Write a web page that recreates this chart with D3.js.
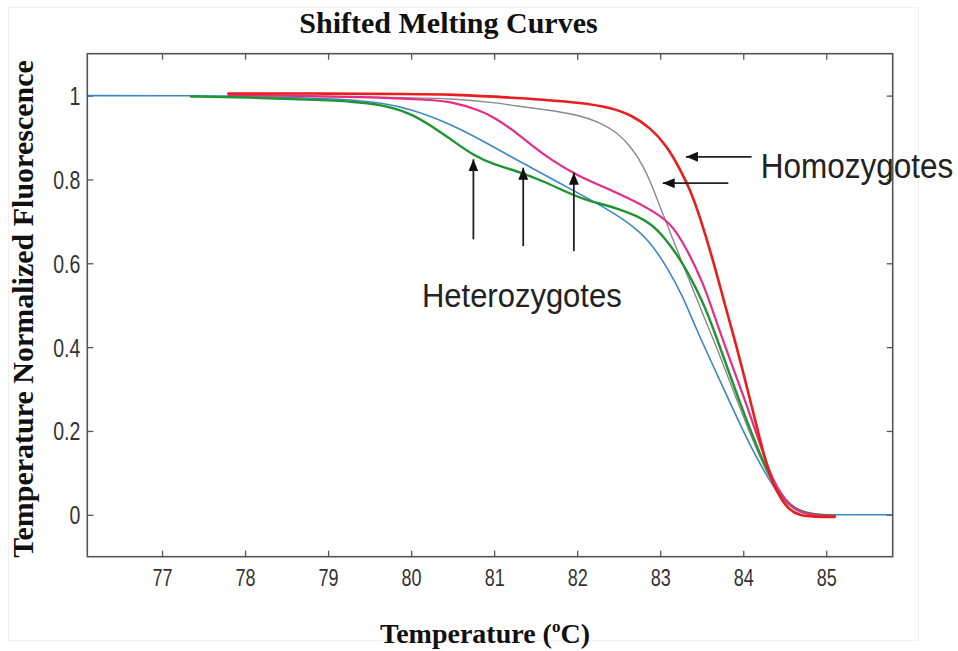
<!DOCTYPE html>
<html>
<head>
<meta charset="utf-8">
<script src="https://cdn.jsdelivr.net/npm/d3@7"></script>
<style>
  html, body { margin: 0; padding: 0; background: #ffffff; }
  svg { display: block; }
</style>
</head>
<body>
<svg id="chart" width="958" height="651"></svg>
<script>
// Melting curves: [temperature °C, normalized fluorescence]
const blueCurve = [
  [76.1, 1.0], [77.0, 1.0], [78.0, 0.999], [78.8, 0.994], [79.3, 0.99], [79.63, 0.983],
  [80.0, 0.968], [80.43, 0.936], [80.83, 0.896], [81.35, 0.838], [81.8, 0.79], [82.27, 0.74],
  [82.6, 0.70], [82.87, 0.655], [83.1, 0.585], [83.27, 0.522], [83.43, 0.445], [83.65, 0.35],
  [83.87, 0.255], [84.0, 0.2], [84.15, 0.14], [84.35, 0.07], [84.5, 0.03], [84.65, 0.008],
  [84.8, 0.0], [85.0, 0.0], [85.8, 0.0]
];
const greenCurve = [
  [77.35, 0.998], [78.0, 0.996], [78.8, 0.99], [79.3, 0.986], [79.63, 0.979], [80.0, 0.958],
  [80.23, 0.929], [80.47, 0.897], [80.75, 0.857], [81.0, 0.835], [81.31, 0.818], [81.6, 0.795],
  [81.88, 0.769], [82.08, 0.753], [82.28, 0.742], [82.48, 0.731], [82.72, 0.713], [82.88, 0.695],
  [83.04, 0.665], [83.28, 0.60], [83.52, 0.506], [83.64, 0.445], [83.98, 0.255], [84.21, 0.14],
  [84.36, 0.075], [84.55, 0.022], [84.75, 0.002], [85.1, -0.002]
];
const magentaCurve = [
  [77.8, 1.002], [78.5, 1.0], [79.3, 0.997], [79.63, 0.995], [80.23, 0.99], [80.47, 0.986],
  [80.83, 0.965], [81.0, 0.948], [81.27, 0.912], [81.51, 0.872], [81.68, 0.848], [82.0, 0.808],
  [82.48, 0.769], [82.88, 0.729], [83.12, 0.697], [83.28, 0.649], [83.52, 0.554], [83.68, 0.458],
  [83.85, 0.365], [84.05, 0.258], [84.25, 0.14], [84.36, 0.08], [84.55, 0.02], [84.75, 0.0],
  [85.1, -0.004]
];
const grayCurve = [
  [77.8, 1.0], [79.0, 0.998], [80.0, 0.995], [80.47, 0.993], [81.0, 0.984], [81.27, 0.975],
  [81.6, 0.967], [82.0, 0.955], [82.28, 0.936], [82.48, 0.912], [82.64, 0.88], [82.8, 0.832],
  [82.92, 0.776], [83.04, 0.713], [83.2, 0.633], [83.36, 0.555], [83.52, 0.475], [83.7, 0.39],
  [83.93, 0.27], [84.18, 0.145], [84.36, 0.07], [84.55, 0.02], [84.75, 0.001], [85.1, -0.002]
];
const redCurve = [
  [77.8, 1.005], [79.0, 1.005], [80.0, 1.004], [80.47, 1.003], [81.27, 0.995], [82.08, 0.983],
  [82.4, 0.971], [82.64, 0.955], [82.88, 0.924], [83.08, 0.88], [83.24, 0.824], [83.36, 0.776],
  [83.48, 0.71], [83.64, 0.605], [83.76, 0.515], [83.88, 0.43], [84.0, 0.34], [84.1, 0.26],
  [84.2, 0.18], [84.29, 0.115], [84.36, 0.072], [84.45, 0.04], [84.55, 0.012], [84.68, -0.002],
  [84.85, -0.005], [85.1, -0.005]
];

const xTicks = [77, 78, 79, 80, 81, 82, 83, 84, 85];
const yTicks = [0, 0.2, 0.4, 0.6, 0.8, 1];

// Annotation arrows: [x, y] of tail and tip in data units
const homoArrows = [
  [[84.10, 0.854], [83.31, 0.854]],
  [[83.82, 0.791], [83.03, 0.791]]
];
const heteroArrows = [
  [[80.75, 0.657], [80.75, 0.848]],
  [[81.35, 0.641], [81.35, 0.828]],
  [[81.96, 0.629], [81.96, 0.816]]
];

const svg = d3.select("#chart");
const plotLeft = 87.3, plotRight = 892.7, plotTop = 53.7, plotBottom = 556.7;

const x = d3.scaleLinear().domain([76.1, 85.8]).range([plotLeft, plotRight]);
const y = d3.scaleLinear().domain([-0.1, 1.1]).range([plotBottom, plotTop]);

// faint figure frame
svg.append("rect")
  .attr("x", 8.5).attr("y", 7.5).attr("width", 910).attr("height", 633)
  .attr("fill", "none").attr("stroke", "#f0f0f0").attr("stroke-width", 1);

// axes with inward ticks on all four sides
const tickLen = 6;
const axisColor = "#555";
const tickFont = "Liberation Sans, Arial, sans-serif";

function styleAxis(g) {
  g.select(".domain").remove();
  g.selectAll(".tick line").attr("stroke", axisColor).attr("stroke-width", 1.3);
}

const gxB = svg.append("g").attr("transform", `translate(0,${plotBottom})`)
  .call(d3.axisBottom(x).tickValues(xTicks).tickSize(-tickLen).tickFormat(d3.format("d")));
styleAxis(gxB);
gxB.selectAll(".tick text")
  .attr("y", 0).attr("dy", null)
  .attr("transform", "translate(0,29) scale(1,1.35)")
  .attr("font-family", tickFont).attr("font-size", 18).attr("fill", "#333");

const gxT = svg.append("g").attr("transform", `translate(0,${plotTop})`)
  .call(d3.axisTop(x).tickValues(xTicks).tickSize(-tickLen).tickFormat(""));
styleAxis(gxT);

const gyL = svg.append("g").attr("transform", `translate(${plotLeft},0)`)
  .call(d3.axisLeft(y).tickValues(yTicks).tickSize(-tickLen).tickFormat(d3.format("~g")));
styleAxis(gyL);
gyL.selectAll(".tick text")
  .attr("x", 0).attr("dy", null)
  .attr("transform", "translate(-7,9) scale(1,1.3)")
  .attr("font-family", tickFont).attr("font-size", 19.5).attr("fill", "#333");

const gyR = svg.append("g").attr("transform", `translate(${plotRight},0)`)
  .call(d3.axisRight(y).tickValues(yTicks).tickSize(-tickLen).tickFormat(""));
styleAxis(gyR);

// curves
const line = d3.line()
  .x(d => x(d[0]))
  .y(d => y(d[1]))
  .curve(d3.curveBasis);

const series = [
  { data: blueCurve, color: "#3d87c9", width: 1.6 },
  { data: grayCurve, color: "#8a8a8a", width: 1.4 },
  { data: greenCurve, color: "#1f9433", width: 2.4 },
  { data: magentaCurve, color: "#e62d86", width: 2.2 },
  { data: redCurve, color: "#ea1c1c", width: 2.6 }
];

svg.append("g").selectAll("path.curve")
  .data(series)
  .join("path")
  .attr("class", "curve")
  .attr("d", d => line(d.data))
  .attr("fill", "none")
  .attr("stroke", d => d.color)
  .attr("stroke-width", d => d.width)
  .attr("stroke-linejoin", "round")
  .attr("stroke-linecap", "round");

// plot box
svg.append("rect")
  .attr("x", plotLeft).attr("y", plotTop)
  .attr("width", plotRight - plotLeft).attr("height", plotBottom - plotTop)
  .attr("fill", "none").attr("stroke", axisColor).attr("stroke-width", 1.6);

// arrows
svg.append("defs").append("marker")
  .attr("id", "head")
  .attr("viewBox", "0 0 12 10")
  .attr("refX", 12).attr("refY", 5)
  .attr("markerWidth", 12).attr("markerHeight", 10)
  .attr("markerUnits", "userSpaceOnUse")
  .attr("orient", "auto")
  .append("path")
  .attr("d", "M0,0 L12,5 L0,10 Z")
  .attr("fill", "#111");

svg.append("g").selectAll("line")
  .data(homoArrows.concat(heteroArrows))
  .join("line")
  .attr("x1", d => x(d[0][0])).attr("y1", d => y(d[0][1]))
  .attr("x2", d => x(d[1][0])).attr("y2", d => y(d[1][1]))
  .attr("stroke", "#222").attr("stroke-width", 1.8)
  .attr("marker-end", "url(#head)");

// annotation labels
svg.append("text")
  .attr("transform", `translate(${x(84.21)},${y(0.803)}) scale(1,1.1)`)
  .attr("font-family", tickFont).attr("font-size", 31.5).attr("fill", "#222")
  .text("Homozygotes");

svg.append("text")
  .attr("transform", `translate(${x(80.13)},${y(0.496)}) scale(1,1.05)`)
  .attr("font-family", tickFont).attr("font-size", 31).attr("fill", "#222")
  .text("Heterozygotes");

// titles
const serif = "Liberation Serif, Times New Roman, serif";
svg.append("text")
  .attr("x", 448.5).attr("y", 33)
  .attr("text-anchor", "middle")
  .attr("font-family", serif).attr("font-weight", "bold").attr("font-size", 30)
  .attr("fill", "#111")
  .text("Shifted Melting Curves");

const xl = svg.append("text")
  .attr("x", 485).attr("y", 643)
  .attr("text-anchor", "middle")
  .attr("font-family", serif).attr("font-weight", "bold").attr("font-size", 28)
  .attr("fill", "#111");
xl.append("tspan").text("Temperature (");
xl.append("tspan").attr("font-size", 17).attr("dy", -11).text("o");
xl.append("tspan").attr("dy", 11).text("C)");

svg.append("text")
  .attr("transform", "translate(33,309) rotate(-90)")
  .attr("text-anchor", "middle")
  .attr("font-family", serif).attr("font-weight", "bold").attr("font-size", 30)
  .attr("fill", "#111")
  .text("Temperature Normalized Fluorescence");
</script>
</body>
</html>
